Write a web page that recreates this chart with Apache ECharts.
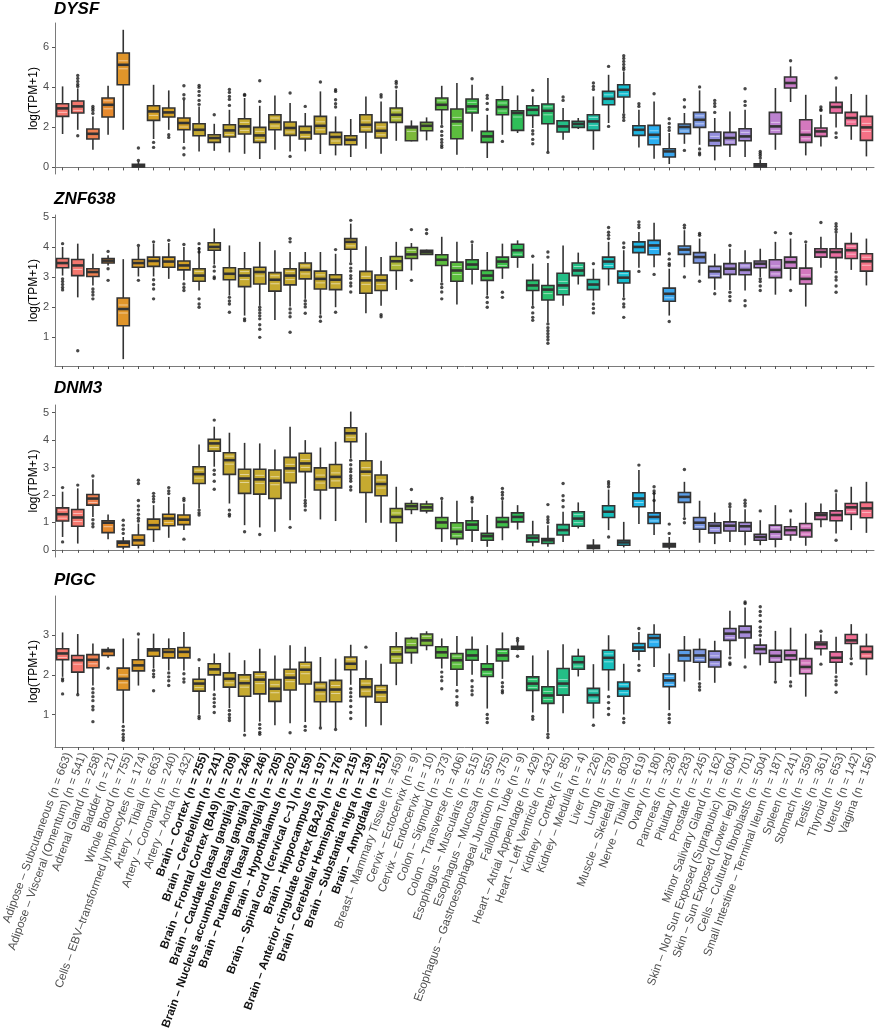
<!DOCTYPE html>
<html>
<head>
<meta charset="utf-8">
<script src="https://cdn.jsdelivr.net/npm/echarts@6/dist/echarts.min.js"></script>
<style>
  html, body { margin: 0; padding: 0; background: #fff; }
  #chart { width: 876px; height: 1036px; }
</style>
</head>
<body>
<div id="chart"></div>
<script>
// tissues, in plotting order
const tissues = [
  'Adipose – Subcutaneous (n = 663)', 'Adipose – Visceral (Omentum) (n = 541)', 'Adrenal Gland (n = 258)',
  'Bladder (n = 21)', 'Whole Blood (n = 755)', 'Cells – EBV–transformed lymphocytes (n = 174)',
  'Artery – Tibial (n = 663)', 'Artery – Coronary (n = 240)', 'Artery – Aorta (n = 432)',
  'Brain – Cortex (n = 255)', 'Brain – Cerebellum (n = 241)', 'Brain – Frontal Cortex (BA9) (n = 209)',
  'Brain – Caudate (basal ganglia) (n = 246)', 'Brain – Nucleus accumbens (basal ganglia) (n = 246)',
  'Brain – Putamen (basal ganglia) (n = 205)', 'Brain – Hypothalamus (n = 202)',
  'Brain – Spinal cord (cervical c–1) (n = 159)', 'Brain – Hippocampus (n = 197)',
  'Brain – Anterior cingulate cortex (BA24) (n = 176)', 'Brain – Cerebellar Hemisphere (n = 215)',
  'Brain – Substantia nigra (n = 139)', 'Brain – Amygdala (n = 152)', 'Breast – Mammary Tissue (n = 459)',
  'Cervix – Ectocervix (n = 9)', 'Cervix – Endocervix (n = 10)', 'Colon – Sigmoid (n = 373)',
  'Colon – Transverse (n = 406)', 'Esophagus – Muscularis (n = 515)', 'Esophagus – Mucosa (n = 555)',
  'Esophagus – Gastroesophageal Junction (n = 375)', 'Fallopian Tube (n = 9)',
  'Heart – Atrial Appendage (n = 429)', 'Heart – Left Ventricle (n = 432)', 'Kidney – Cortex (n = 85)',
  'Kidney – Medulla (n = 4)', 'Liver (n = 226)', 'Lung (n = 578)', 'Muscle – Skeletal (n = 803)',
  'Nerve – Tibial (n = 619)', 'Ovary (n = 180)', 'Pancreas (n = 328)', 'Pituitary (n = 283)',
  'Prostate (n = 245)', 'Minor Salivary Gland (n = 162)', 'Skin – Not Sun Exposed (Suprapubic) (n = 604)',
  'Skin – Sun Exposed (Lower leg) (n = 701)', 'Cells – Cultured fibroblasts (n = 504)',
  'Small Intestine – Terminal Ileum (n = 187)', 'Spleen (n = 241)', 'Stomach (n = 359)',
  'Testis (n = 361)', 'Thyroid (n = 653)', 'Uterus (n = 142)', 'Vagina (n = 156)'
];
// brain tissues get bold labels
const boldTissues = tissues.filter(t => t.indexOf('Brain') === 0);

const palette = [
  '#F4776E', '#F4776E', '#EE8050', '#E68A2E', '#E0952A', '#D99B28', '#D4A025', '#D4A025', '#D4A025',
  '#C6AA30', '#C6AA30', '#C6AA30', '#C6AA30', '#C6AA30', '#C6AA30', '#C6AA30', '#C6AA30', '#C6AA30',
  '#C6AA30', '#C6AA30', '#C6AA30', '#C6AA30', '#A9B733', '#7CB93A', '#7CB93A', '#5CBD3E', '#5CBD3E',
  '#3DBE48', '#3DBE48', '#3DBE48', '#2EBE58', '#28BE6C', '#28BE6C', '#24BE86', '#24BE86', '#1FBEA2',
  '#17BFBC', '#14BCCF', '#1EB6E2', '#2AAEF0', '#3AA5EC', '#5A9DE6', '#7C97E2', '#948FDD', '#A58AD8',
  '#A58AD8', '#B087D6', '#BC82D0', '#C97DC9', '#D478BE', '#DF72B0', '#EA6DA0', '#F16E92', '#F57085'
];

// [lower whisker, q1, median, q3, upper whisker]
const dysfStats = [
  [1.67,2.55,2.95,3.18,4.05],[1.88,2.72,3.05,3.32,3.95],[0.88,1.42,1.68,1.92,2.55],[1.63,2.52,3.13,3.47,4.08],
  [1.88,4.13,5.13,5.72,6.88],[0.0,0.02,0.07,0.15,0.3],[1.42,2.35,2.8,3.08,4.13],[1.88,2.52,2.75,2.97,3.85],
  [1.22,1.88,2.22,2.47,3.38],[0.8,1.58,1.88,2.18,3.05],[0.83,1.25,1.47,1.63,2.18],[0.75,1.52,1.85,2.13,2.88],
  [0.68,1.67,2.05,2.43,3.47],[0.42,1.25,1.6,2.0,3.08],[0.88,1.88,2.27,2.63,3.6],[0.8,1.6,1.97,2.27,3.22],
  [0.8,1.42,1.75,2.05,2.72],[0.67,1.67,2.08,2.55,3.8],[0.6,1.13,1.52,1.75,2.55],[0.52,1.13,1.38,1.58,2.42],
  [0.93,1.77,2.13,2.63,3.55],[0.68,1.47,1.83,2.25,3.3],[1.33,2.25,2.63,2.97,3.88],[1.3,1.33,2.0,2.05,2.35],
  [1.35,1.83,2.08,2.25,2.5],[2.13,2.88,3.13,3.47,4.08],[0.63,1.43,2.3,2.92,4.22],[1.8,2.72,3.05,3.42,4.13],
  [0.47,1.25,1.55,1.8,2.63],[1.63,2.63,3.02,3.38,4.08],[1.72,1.85,2.72,2.83,3.6],[1.97,2.6,2.88,3.08,3.55],
  [0.8,2.18,2.83,3.17,4.47],[1.38,1.77,2.05,2.33,2.97],[1.92,2.0,2.17,2.3,2.47],[0.88,1.85,2.3,2.63,3.55],
  [2.22,3.13,3.43,3.8,4.63],[2.72,3.52,3.88,4.13,4.8],[1.0,1.6,1.88,2.08,2.88],[0.43,1.13,1.63,2.1,3.3],
  [0.17,0.52,0.8,0.93,1.72],[1.18,1.68,2.02,2.17,2.72],[1.13,2.0,2.38,2.75,3.85],[0.35,1.08,1.35,1.77,2.47],
  [0.52,1.13,1.47,1.75,2.8],[0.52,1.33,1.55,1.93,2.88],[0.0,0.02,0.1,0.18,0.38],[0.88,1.67,2.05,2.75,3.97],
  [3.27,3.97,4.22,4.52,5.05],[0.6,1.25,1.63,2.38,3.63],[1.05,1.55,1.8,1.97,2.63],[2.0,2.72,3.02,3.25,4.05],
  [1.38,2.08,2.47,2.75,3.67],[0.55,1.35,2.0,2.55,3.63]
];
const dysfOut = [
  [],[4.6,4.45,4.3,4.15,4.05,1.58],[3.05,2.95,2.85,2.7],[],[],[0.97,0.35],[1.25,1.0],[1.63,1.5],
  [4.08,3.63,3.43,0.97,0.63],[4.1,4.0,3.8,3.6,3.35,3.15],[2.63],[3.9,3.75,3.55,3.4,3.1],[3.65,3.6],[4.33,3.3],
  [],[3.72,0.55],[3.05],[4.27],[3.88,3.8,3.38,3.18,3.02],[],[],[3.63,3.52],[4.3,4.2,4.02],[],[],
  [2.05,1.8,1.6,1.4,1.25,1.1,1.0],[],[4.43],[3.6,3.45,3.2,2.9],[1.3],[],[3.85,1.83,1.67,1.4,1.18],[0.75],
  [3.52,3.35],[],[4.22,4.05,3.9],[5.05,2.05],[5.58,5.45,5.3,5.15,5.0,4.9,2.63,2.5,2.35],[3.18,3.05],[3.68],
  [2.43,2.2,2.0,1.85],[3.38,3.02,0.85],[4.02,0.92,0.72,0.63],[3.35,3.2,3.05,2.75],[],[3.93,3.3,3.1],
  [0.8,0.7,0.6,0.47],[],[5.33],[],[3.02,2.9,2.85],[4.47,1.72,1.5],[],[]
];

const znfStats = [
  [3.05,3.31,3.47,3.62,4.01],[2.32,3.05,3.39,3.59,4.12],[2.72,3.02,3.17,3.28,3.78],[3.39,3.47,3.55,3.62,3.73],
  [0.25,1.37,1.93,2.3,3.6],[3.02,3.33,3.47,3.59,4.01],[3.02,3.36,3.54,3.67,4.12],[2.94,3.33,3.52,3.67,4.14],
  [2.89,3.24,3.39,3.54,4.01],[2.55,2.86,3.05,3.28,4.01],[3.42,3.9,4.01,4.15,4.63],[2.38,2.91,3.11,3.31,4.06],
  [1.71,2.68,3.05,3.28,3.84],[2.04,2.77,3.17,3.33,4.18],[1.56,2.53,2.91,3.15,3.9],[2.01,2.74,3.05,3.28,3.84],
  [2.27,2.94,3.24,3.47,3.84],[1.74,2.6,2.94,3.2,3.84],[1.99,2.58,2.91,3.08,3.78],[3.5,3.93,4.18,4.29,4.79],
  [1.79,2.46,2.89,3.19,4.03],[2.04,2.55,2.89,3.07,3.67],[2.57,3.22,3.53,3.69,4.18],[3.22,3.62,3.76,3.99,4.14],
  [3.75,3.76,3.84,3.9,3.92],[2.83,3.39,3.58,3.75,4.35],[2.08,2.86,3.22,3.5,4.18],[2.75,3.26,3.42,3.58,4.12],
  [2.38,2.89,3.05,3.22,3.84],[2.94,3.31,3.52,3.67,4.12],[3.31,3.67,3.9,4.1,4.23],[2.04,2.55,2.72,2.89,3.45],
  [1.48,2.23,2.58,2.72,3.47],[2.04,2.41,2.72,3.13,4.06],[2.75,3.05,3.22,3.47,3.82],[2.21,2.58,2.75,2.92,3.28],
  [2.72,3.28,3.52,3.67,4.18],[2.32,2.8,2.98,3.2,3.9],[3.31,3.82,4.01,4.18,4.51],[3.33,3.75,4.06,4.23,4.82],
  [1.71,2.19,2.44,2.63,3.28],[3.33,3.76,3.92,4.04,4.57],[3.05,3.47,3.67,3.82,4.29],[2.57,2.98,3.19,3.36,3.78],
  [2.57,3.09,3.28,3.45,3.95],[2.55,3.08,3.24,3.47,3.9],[3.0,3.31,3.45,3.54,3.95],[2.41,2.98,3.24,3.58,4.18],
  [2.89,3.3,3.5,3.67,4.29],[2.01,2.77,2.94,3.3,4.12],[3.31,3.67,3.84,3.95,4.35],[3.24,3.65,3.84,3.95,4.46],
  [3.24,3.62,3.9,4.12,4.49],[2.72,3.2,3.53,3.78,4.29]
];
const znfOut = [
  [4.12,2.94,2.85,2.75,2.65,2.57],[0.53],[2.6,2.5,2.4,2.27],[3.86,3.28,2.89],[],[4.06,2.89],
  [4.18,2.91,2.75,2.6,2.27],[4.23],[4.09,2.77,2.65,2.55],[4.12,3.95,3.84,2.27,2.1,1.99],[3.35,3.2,3.0,2.95],
  [2.32,2.2,2.1,1.82],[1.6,1.54],[1.99,1.9,1.8,1.7,1.6,1.4,1.25,0.98],[],[4.29,4.18,1.93,1.8,1.67,1.15],
  [2.21,2.1,2.0,1.79],[1.67,1.52],[3.92,1.82],[4.9,3.45,3.3,3.2,3.05,2.95,2.8,2.7,2.5],[],[1.74,1.67],[],
  [4.59,2.89],[4.59,4.46],[2.77,2.65,2.5,2.27],[],[4.18],[2.32,2.15,1.99],[2.49,2.32],[],
  [3.7,1.99,1.8,1.65,1.55],[3.84,3.67,1.43,1.3,1.2,1.1,1.0,0.9,0.78],[],[],[3.45,2.1,1.95,1.8],
  [4.66,4.5,4.4,4.29],[4.14,3.99,2.27,2.1,2.0,1.65],[4.85,4.75,4.66,3.19],[3.09],[3.78,3.6,3.45,3.39,1.51],
  [4.74,4.65,3.0],[4.46,4.4,2.86],[2.44],[4.06,2.49,2.35,2.21],[2.21,2.04],[2.94,2.85,2.7,2.55],[4.49],
  [4.46,2.55],[4.18],[4.83],[4.79,4.7,4.6,4.51,3.17,3.0,2.9,2.7,2.49],[],[]
];

const dnm3Stats = [
  [0.47,1.05,1.3,1.53,2.12],[0.23,0.86,1.18,1.47,2.24],[1.2,1.63,1.87,2.02,2.57],[0.39,0.63,0.99,1.06,1.29],
  [0.02,0.11,0.26,0.32,0.47],[0.05,0.17,0.35,0.54,0.96],[0.29,0.74,0.9,1.12,1.63],[0.44,0.88,1.14,1.3,1.93],
  [0.72,0.92,1.1,1.27,1.69],[1.51,2.42,2.76,3.03,3.84],[3.03,3.6,3.88,4.03,4.49],[1.69,2.75,3.27,3.54,4.27],
  [0.9,2.06,2.6,2.94,3.9],[0.82,2.03,2.57,2.94,3.88],[0.66,1.87,2.52,2.91,3.66],[1.08,2.45,2.97,3.37,4.49],
  [1.87,2.85,3.15,3.52,4.0],[1.11,2.18,2.58,2.99,3.73],[1.05,2.26,2.66,3.11,3.94],[3.33,3.94,4.25,4.45,5.04],
  [0.99,2.09,2.85,3.25,4.27],[0.99,1.97,2.4,2.73,3.25],[0.29,0.99,1.2,1.51,2.3],[1.3,1.47,1.59,1.69,1.81],
  [1.33,1.42,1.55,1.67,1.79],[0.29,0.78,1.0,1.18,1.81],[0.17,0.41,0.66,0.99,1.79],[0.29,0.72,0.92,1.06,1.57],
  [0.11,0.35,0.5,0.6,1.27],[0.35,0.82,1.02,1.18,1.81],[0.74,1.02,1.2,1.35,1.63],[0.13,0.29,0.44,0.54,1.06],
  [0.11,0.23,0.35,0.41,0.9],[0.29,0.54,0.72,0.92,1.39],[0.78,0.86,1.14,1.39,1.73],[0.01,0.05,0.11,0.17,0.39],
  [0.72,1.18,1.39,1.61,2.2],[0.09,0.17,0.27,0.35,1.02],[0.94,1.57,1.87,2.08,2.91],[0.54,0.96,1.2,1.35,2.12],
  [0.02,0.11,0.17,0.23,0.47],[1.2,1.73,1.93,2.09,2.48],[0.26,0.75,0.99,1.18,1.79],[0.21,0.62,0.88,0.99,1.36],
  [0.29,0.69,0.88,1.02,1.51],[0.17,0.68,0.86,1.0,1.48],[0.17,0.35,0.47,0.57,1.08],[0.09,0.39,0.66,0.9,1.63],
  [0.33,0.54,0.72,0.84,1.14],[0.15,0.47,0.72,0.96,1.72],[0.82,1.11,1.27,1.35,1.69],[0.6,1.06,1.27,1.42,2.06],
  [0.72,1.29,1.55,1.69,2.3],[0.62,1.17,1.51,1.73,2.48]
];
const dnm3Out = [
  [2.27,0.29],[2.36],[2.69,1.1,0.95,0.84],[],[1.08,0.9,0.75,0.6],[2.54,2.42,1.8,1.6,1.45,1.3,1.15,1.05],
  [2.06,1.95,1.85,1.75],[2.27,2.15,2.05],[1.87,1.8,0.39],[1.45,1.35,1.27],[4.73,2.9,2.75,2.5,2.21],
  [1.45,1.3,1.23],[0.66],[0.56],[],[0.82],[1.8,1.7,1.6,1.45],[],[],[3.27,3.1,2.95,2.85,2.7,2.6,2.5,2.3,2.18],
  [],[],[],[2.2],[],[1.87],[],[1.91,1.85,1.75],[],[2.24,2.1,2.0,1.87],[],[],[1.65,1.2,1.1,1.0],
  [2.42,1.97,1.8,1.57],[],[],[2.48,2.4,2.3,0.47],[],[3.09],[2.3,2.15,2.06,1.8],[0.94,0.6],[2.93,1.14,0.99],
  [],[],[1.67,1.57],[1.81,1.7,1.6],[1.42],[],[1.42],[],[],[2.15,0.35],[],[]
];

const pigcStats = [
  [1.95,2.38,2.54,2.66,3.07],[1.52,2.07,2.37,2.49,3.03],[1.73,2.18,2.38,2.51,2.79],[2.43,2.49,2.6,2.64,2.7],
  [0.78,1.62,1.9,2.17,2.92],[1.73,2.1,2.24,2.38,2.92],[2.16,2.47,2.62,2.66,3.04],[2.11,2.43,2.58,2.66,2.92],
  [2.11,2.43,2.58,2.69,3.08],[1.0,1.59,1.78,1.89,2.2],[1.6,2.0,2.14,2.28,2.54],[1.16,1.69,1.9,2.05,2.56],
  [0.56,1.46,1.79,2.0,2.37],[0.82,1.52,1.88,2.07,2.66],[0.73,1.33,1.65,1.88,2.49],[0.78,1.62,1.93,2.14,2.75],
  [0.81,1.77,2.13,2.32,2.71],[0.69,1.32,1.62,1.81,2.45],[0.65,1.32,1.63,1.86,2.41],[1.75,2.13,2.28,2.45,2.76],
  [0.69,1.45,1.69,1.9,2.37],[0.73,1.31,1.56,1.73,2.28],[1.74,2.3,2.52,2.71,3.08],[2.28,2.56,2.69,2.92,2.96],
  [2.62,2.74,2.87,3.03,3.1],[2.16,2.43,2.57,2.71,2.92],[1.72,2.14,2.37,2.54,2.98],[2.0,2.37,2.49,2.64,2.97],
  [1.15,1.96,2.14,2.28,2.75],[1.9,2.35,2.49,2.65,3.07],[2.62,2.65,2.69,2.72,2.83],[1.05,1.61,1.78,1.95,2.49],
  [0.55,1.28,1.48,1.7,2.62],[1.03,1.49,1.78,2.16,2.77],[1.96,2.14,2.32,2.47,2.66],[0.9,1.29,1.49,1.66,2.27],
  [1.6,2.13,2.43,2.62,3.0],[1.0,1.46,1.65,1.82,2.28],[2.37,2.6,2.69,2.79,3.08],[2.2,2.69,2.93,3.02,3.28],
  [1.11,1.7,1.86,2.03,2.54],[1.83,2.35,2.49,2.62,2.98],[1.86,2.32,2.49,2.64,2.92],[1.8,2.2,2.38,2.6,2.86],
  [2.49,2.87,3.04,3.17,3.62],[2.41,2.93,3.08,3.23,3.7],[2.24,2.54,2.65,2.75,2.92],[1.86,2.32,2.48,2.62,3.11],
  [1.95,2.38,2.49,2.62,3.19],[1.45,2.03,2.2,2.41,3.04],[2.49,2.66,2.77,2.83,3.02],[2.03,2.32,2.43,2.58,2.96],
  [2.45,2.79,2.87,3.02,3.28],[1.99,2.41,2.58,2.72,3.04]
];
const pigcOut = [
  [1.9,1.85,1.52],[1.5],[1.65,1.55,1.45,1.35,1.2,1.12,0.82],[2.17],[0.7,0.6,0.5,0.42,0.35],[3.03],
  [2.11,2.02,1.95,1.6],[2.05,1.95,1.85,1.73],[2.03,1.9,1.82],[2.38,0.95,0.9],[1.5,1.4,1.3,1.2,1.05],
  [1.1,1.0,0.92,0.85],[0.48],[0.75,0.65,0.55,0.5],[],[0.54],[0.7,0.6],[0.66],[0.62],
  [1.65,1.55,1.45,1.35,1.2,1.05,0.9],[2.7],[],[],[],[],[2.07,1.95,1.85,1.65],[1.6,1.45,1.3,1.24],
  [1.85,1.7,1.6,1.5],[1.0,0.9,0.8],[1.8,1.7,1.6,1.55],[2.92,2.86,2.47],[0.95,0.88],[0.5,0.42],[],[],[0.73],
  [1.45,1.3,1.15,1.0],[0.9,0.8],[3.17,2.24,2.11],[],[1.0,0.9,0.8],[],[1.78,1.7,1.62],[],[2.43,2.3,2.26],
  [3.84,3.8,2.2],[3.0,3.1,3.2,3.35,3.5,3.6,3.72],[1.82],[1.82,1.72],[],[3.1,2.27],[1.95,1.85,1.75,1.56],
  [2.41,2.28],[]
];

const genes = ['DYSF', 'ZNF638', 'DNM3', 'PIGC'];
const geneStats = [dysfStats, znfStats, dnm3Stats, pigcStats];
const geneOut = [dysfOut, znfOut, dnm3Out, pigcOut];
const yTicks = [[0, 2, 4, 6], [1, 2, 3, 4, 5], [0, 1, 2, 3, 4, 5], [1, 2, 3]];
const yRange = [[-0.33, 7.22], [0.02, 5.08], [-0.26, 5.28], [0.18, 3.99]];

const FONT = '"Liberation Sans", Arial, Helvetica, sans-serif';
const EDGE = '#333333';
const panels = [
  { top: 23, height: 151, titleTop: 1 },
  { top: 215, height: 151, titleTop: 191 },
  { top: 405, height: 152, titleTop: 380 },
  { top: 596, height: 151, titleTop: 572 }
];

function lighten(hex, t) {
  const n = parseInt(hex.slice(1), 16);
  const mix = c => Math.round(c + (255 - c) * t);
  return 'rgb(' + mix(n >> 16) + ',' + mix((n >> 8) & 255) + ',' + mix(n & 255) + ')';
}

function renderBox(params, api) {
  const i = api.value(0);
  const lo = api.coord([i, api.value(1)]);
  const q1 = api.coord([i, api.value(2)]);
  const md = api.coord([i, api.value(3)]);
  const q3 = api.coord([i, api.value(4)]);
  const hi = api.coord([i, api.value(5)]);
  const w = api.size([1, 0])[0] * 0.8;
  const cx = md[0];
  const fill = palette[i];
  const kids = [
    { type: 'line', shape: { x1: cx, y1: hi[1], x2: cx, y2: q3[1] }, style: { stroke: EDGE, lineWidth: 1.6 } },
    { type: 'line', shape: { x1: cx, y1: q1[1], x2: cx, y2: lo[1] }, style: { stroke: EDGE, lineWidth: 1.6 } },
    { type: 'rect', shape: { x: cx - w / 2, y: q3[1], width: w, height: q1[1] - q3[1] },
      style: { fill: fill, stroke: EDGE, lineWidth: 1.6 } }
  ];
  const light = lighten(fill, 0.5);
  [-4, 4].forEach(d => {
    const yy = md[1] + d;
    if (yy > q3[1] + 2.2 && yy < q1[1] - 2.2) {
      kids.push({ type: 'line', shape: { x1: cx - w / 2 + 1.5, y1: yy, x2: cx + w / 2 - 1.5, y2: yy },
        style: { stroke: light, lineWidth: 1 } });
    }
  });
  kids.push({ type: 'line', shape: { x1: cx - w / 2, y1: md[1], x2: cx + w / 2, y2: md[1] },
    style: { stroke: EDGE, lineWidth: 2.6 } });
  return { type: 'group', children: kids };
}

const grid = [], xAxis = [], yAxis = [], series = [], title = [];
panels.forEach((p, g) => {
  grid.push({ left: 55, right: 2, top: p.top, height: p.height, outerBoundsMode: 'none', containLabel: false });
  title.push({
    text: genes[g], left: 54, top: p.titleTop, padding: 0,
    textStyle: { fontFamily: FONT, fontSize: 17, fontWeight: 'bold', fontStyle: 'italic', color: '#000' }
  });
  const last = g === panels.length - 1;
  xAxis.push({
    type: 'category', gridIndex: g, data: tissues, boundaryGap: true,
    axisLine: { show: true, lineStyle: { color: '#7a7a7a', width: 1 } },
    axisTick: { show: true, alignWithLabel: true, length: 3, lineStyle: { color: '#555' } },
    splitLine: { show: false },
    axisLabel: {
      show: last, interval: 0, rotate: 70, margin: 4, hideOverlap: false, verticalAlign: 'top',
      fontFamily: FONT, fontSize: 11.7, color: '#4d4d4d',
      formatter: v => boldTissues.indexOf(v) >= 0 ? '{b|' + v + '}' : v,
      rich: { b: { fontFamily: FONT, fontSize: 11.7, fontWeight: 'bold', color: '#111' } }
    }
  });
  yAxis.push({
    type: 'value', gridIndex: g, min: yRange[g][0], max: yRange[g][1],
    name: 'log(TPM+1)', nameLocation: 'middle', nameGap: 15, nameRotate: 90, nameMoveOverlap: false,
    nameTextStyle: { fontFamily: FONT, fontSize: 12, color: '#000' },
    axisLine: { show: true, lineStyle: { color: '#7a7a7a', width: 1 } },
    axisTick: { show: true, length: 3, customValues: yTicks[g], lineStyle: { color: '#555' } },
    axisLabel: { customValues: yTicks[g], fontFamily: FONT, fontSize: 11, color: '#4d4d4d', margin: 6 },
    splitLine: { show: false }
  });
  series.push({
    type: 'custom', xAxisIndex: g, yAxisIndex: g, renderItem: renderBox,
    encode: { x: 0, y: [1, 2, 3, 4, 5] },
    data: geneStats[g].map((s, i) => [i].concat(s)), z: 2, silent: true
  });
  const pts = [];
  geneOut[g].forEach((list, i) => list.forEach(v => pts.push([i, v])));
  series.push({
    type: 'scatter', xAxisIndex: g, yAxisIndex: g, data: pts, symbol: 'circle', symbolSize: 3.4,
    itemStyle: { color: '#1a1a1a' }, z: 3, silent: true
  });
});

const chart = echarts.init(document.getElementById('chart'), null, { renderer: 'canvas' });
chart.setOption({
  backgroundColor: '#ffffff',
  animation: false,
  title: title,
  grid: grid,
  xAxis: xAxis,
  yAxis: yAxis,
  series: series
});
</script>
</body>
</html>
